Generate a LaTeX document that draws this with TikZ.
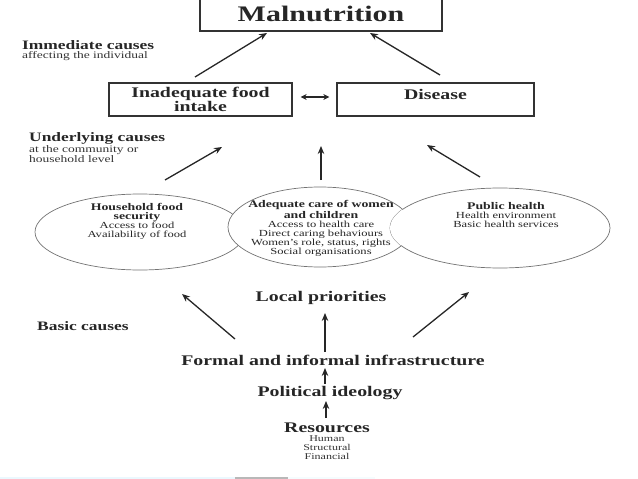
\documentclass[tikz,border=0pt]{standalone}
\usepackage{fontspec}
\setmainfont{Liberation Serif}[FakeStretch=1.35]
\usetikzlibrary{arrows.meta}
\begin{document}
\begin{tikzpicture}[x=1pt,y=-1pt,
  box/.style={draw=black!80, line width=1.3pt, inner sep=0pt, text=black!85},
  arr/.style={-{Stealth[length=8pt,width=6.5pt]}, line width=1.3pt, draw=black!85},
  darr/.style={{Stealth[length=6pt,width=6pt]}-{Stealth[length=6pt,width=6pt]}, line width=1.3pt, draw=black!85},
  ell/.style={draw=black!55, line width=0.7pt, fill=white},
  head/.style={anchor=west, inner sep=0pt, text=black!85, font=\fontsize{12.9}{14}\selectfont\bfseries},
  sub/.style={anchor=west, inner sep=0pt, text=black!80, align=left, font=\fontsize{10}{9.8}\selectfont},
  big/.style={inner sep=0pt, text=black!85, font=\fontsize{14.7}{13}\selectfont\bfseries},
  etxt/.style={inner sep=0pt, text=black!85, align=center, font=\fontsize{9.3}{9}\selectfont},
  ebf/.style={font=\fontsize{10.2}{9}\selectfont\bfseries},
  small/.style={inner sep=0pt, text=black!80, align=center, font=\fontsize{8.9}{9}\selectfont}]
\useasboundingbox (0,0) rectangle (638,479);

% ---- top boxes
\node[box, minimum width=242pt, minimum height=34pt, font=\fontsize{22.2}{22}\selectfont\bfseries] (mal) at (321,14) {Malnutrition};
\node[box, minimum width=183pt, minimum height=33pt, align=center, font=\fontsize{14.7}{13}\selectfont\bfseries] (inad) at (200.5,99.5) {Inadequate food\\intake};
\node[box, minimum width=197pt, minimum height=33pt] (dis) at (435.5,99.5) {};
\node[big] (distxt) at (435.5,94) {Disease};
\draw[darr] ([xshift=8pt,yshift=2.5pt]inad.east) -- ([xshift=-7pt,yshift=2.5pt]dis.west);

% ---- headings
\node[head] (imm) at (22,45) {Immediate causes};
\node[sub] (immsub) at (22,56.5) {affecting the individual};
\node[head] (und) at (29,138) {Underlying causes};
\node[sub] (undsub) at (29,154) {at the community or\\household level};
\node[head] (bas) at (37,326) {Basic causes};

% ---- arrow end points
\coordinate (a1s) at (195,77);  \coordinate (a1e) at (267,33);
\coordinate (a2s) at (440,75);  \coordinate (a2e) at (370,33);
\coordinate (b1s) at (165,180); \coordinate (b1e) at (222,147);
\coordinate (b2s) at (321,180); \coordinate (b2e) at (321,146);
\coordinate (b3s) at (480,177); \coordinate (b3e) at (427,145);
\coordinate (c1s) at (235,339); \coordinate (c1e) at (182,294);
\coordinate (c2s) at (325,352); \coordinate (c2e) at (325,313);
\coordinate (c3s) at (413,337); \coordinate (c3e) at (469,292);
\coordinate (d1s) at (325,384); \coordinate (d1e) at (325,368);
\coordinate (d2s) at (326,418); \coordinate (d2e) at (326,401);
\draw[arr] (a1s) -- (a1e);
\draw[arr] (a2s) -- (a2e);
\draw[arr] (b1s) -- (b1e);
\draw[arr] (b2s) -- (b2e);
\draw[arr] (b3s) -- (b3e);
\draw[arr] (c1s) -- (c1e);
\draw[arr] (c2s) -- (c2e);
\draw[arr] (c3s) -- (c3e);
\draw[arr] (d1s) -- (d1e);
\draw[arr] (d2s) -- (d2e);

% ---- ellipses
\draw[ell] (140,232) ellipse [x radius=105pt, y radius=38pt];
\draw[ell] (320,227) ellipse [x radius=92pt, y radius=40pt];
\draw[ell] (500,228) ellipse [x radius=110pt, y radius=40pt];
\begin{scope}
  \clip (500,228) ellipse [x radius=110pt, y radius=40pt];
  \fill[white] (320,227) ellipse [x radius=91.6pt, y radius=39.6pt];
\end{scope}

\node[etxt] (hfs) at (137,221) {{\fontsize{10.2}{9}\selectfont\bfseries Household food}\\{\fontsize{10.2}{9}\selectfont\bfseries security}\\Access to food\\Availability of food};
\node[etxt] (care) at (321,228.5) {{\fontsize{10.2}{9}\selectfont\bfseries Adequate care of women}\\{\fontsize{10.2}{9}\selectfont\bfseries and children}\\Access to health care\\Direct caring behaviours\\Women's role, status, rights\\Social organisations};
\node[etxt] (ph) at (506,215) {{\fontsize{10.2}{9}\selectfont\bfseries Public health}\\Health environment\\Basic health services};

% ---- basic causes
\node[big] (loc) at (321,298) {Local priorities};
\node[big] (form) at (333,360) {Formal and informal infrastructure};
\node[big] (pol) at (330,393) {Political ideology};
\node[big] (res) at (327,428) {Resources};
\node[small] (resl) at (327,448) {Human\\Structural\\Financial};

% ---- slide strip at the bottom
\fill[cyan!8] (0,476.5) rectangle (235,479);
\fill[black!28] (235,476.5) rectangle (288,479);
\fill[cyan!4] (288,477) rectangle (375,479);
\end{tikzpicture}
\end{document}
